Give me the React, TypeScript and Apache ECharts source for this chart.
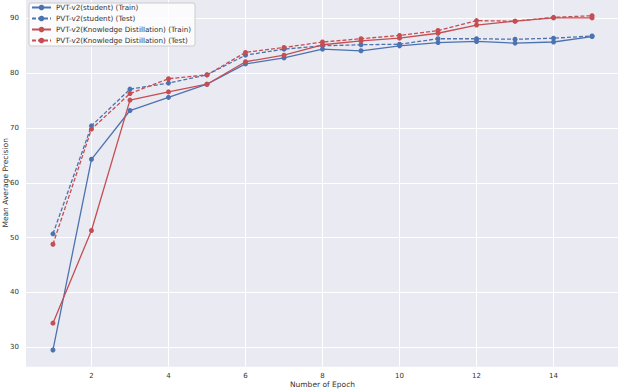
import React, { useEffect, useRef } from "react";
import * as echarts from "echarts";

const epochs = [1, 2, 3, 4, 5, 6, 7, 8, 9, 10, 11, 12, 13, 14, 15];
const studentTrain = [29.5, 64.3, 73.2, 75.6, 78.0, 81.7, 82.8, 84.4, 84.1, 85.0, 85.6, 85.8, 85.5, 85.7, 86.7];
const studentTest = [50.7, 70.4, 77.1, 78.2, 79.7, 83.3, 84.4, 85.0, 85.2, 85.3, 86.3, 86.3, 86.2, 86.4, 86.8];
const kdTrain = [34.4, 51.3, 75.1, 76.6, 78.0, 82.1, 83.3, 85.2, 85.9, 86.4, 87.3, 88.8, 89.5, 90.1, 90.1];
const kdTest = [48.8, 69.8, 76.3, 79.0, 79.7, 83.8, 84.7, 85.7, 86.3, 86.9, 87.8, 89.6, 89.5, 90.2, 90.5];
const seriesNames = [
  "PVT-v2(student) (Train)",
  "PVT-v2(student) (Test)",
  "PVT-v2(Knowledge Distillation) (Train)",
  "PVT-v2(Knowledge Distillation) (Test)",
];

const BLUE = "#4C72B0";
const RED = "#C44E52";
const FONT = "DejaVu Sans";

export default function App() {
  const ref = useRef<HTMLDivElement>(null);
  useEffect(() => {
    if (!ref.current) return;
    const chart = echarts.init(ref.current, null, { renderer: "svg" });
    const mk = (name: string, vals: number[], color: string, dashed: boolean) => ({
      name,
      type: "line",
      data: epochs.map((e, i) => [e, vals[i]]),
      symbol: "circle",
      symbolSize: 5,
      showSymbol: true,
      itemStyle: { color },
      lineStyle: { color, width: 1.3, type: dashed ? [4, 2] : "solid" },
      emphasis: { disabled: true },
    });
    chart.setOption({
      animation: false,
      backgroundColor: "#ffffff",
      textStyle: { fontFamily: FONT },
      grid: {
        left: 26,
        right: -1,
        top: -1,
        bottom: 23.3,
        containLabel: false,
        outerBoundsMode: "none",
        show: true,
        backgroundColor: "#EAEAF2",
        borderWidth: 0,
      },
      legend: {
        left: 29,
        top: 3,
        orient: "vertical",
        backgroundColor: "rgba(255,255,255,0.8)",
        borderColor: "#cccccc",
        borderWidth: 1,
        borderRadius: 2,
        padding: [1, 4, 2, 2],
        itemWidth: 19,
        itemHeight: 7,
        itemGap: 4,
        textStyle: { fontSize: 7.2, color: "#333333", fontFamily: FONT },
        data: seriesNames,
      },
      xAxis: {
        type: "value",
        min: 0.3,
        max: 15.7,
        minInterval: 2,
        maxInterval: 2,
        name: "Number of Epoch",
        nameLocation: "middle",
        nameGap: 14,
        nameMoveOverlap: false,
        nameTextStyle: { fontSize: 7.5, lineHeight: 8, color: "#333333", fontFamily: FONT },
        axisLine: { show: false },
        axisTick: { show: false },
        axisLabel: {
          showMinLabel: false,
          showMaxLabel: false,
          fontSize: 7,
          lineHeight: 7,
          color: "#333333",
          margin: 6,
          fontFamily: FONT,
        },
        splitLine: { show: true, showMinLine: false, showMaxLine: false, lineStyle: { color: "#ffffff", width: 1 } },
      },
      yAxis: {
        type: "value",
        min: 26.45,
        max: 93.55,
        minInterval: 10,
        maxInterval: 10,
        name: "Mean Average Precision",
        nameLocation: "middle",
        nameGap: 17,
        nameMoveOverlap: false,
        nameTextStyle: { fontSize: 7.5, lineHeight: 8, color: "#333333", fontFamily: FONT },
        axisLine: { show: false },
        axisTick: { show: false },
        axisLabel: {
          showMinLabel: false,
          showMaxLabel: false,
          fontSize: 7,
          color: "#333333",
          margin: 7,
          fontFamily: FONT,
        },
        splitLine: { show: true, showMinLine: false, showMaxLine: false, lineStyle: { color: "#ffffff", width: 1 } },
      },
      series: [
        mk(seriesNames[0], studentTrain, BLUE, false),
        mk(seriesNames[1], studentTest, BLUE, true),
        mk(seriesNames[2], kdTrain, RED, false),
        mk(seriesNames[3], kdTest, RED, true),
      ],
    });
    return () => chart.dispose();
  }, []);
  return (
    <div
      ref={ref}
      style={{ position: "fixed", left: 0, top: 0, width: 618, height: 390 }}
    />
  );
}
